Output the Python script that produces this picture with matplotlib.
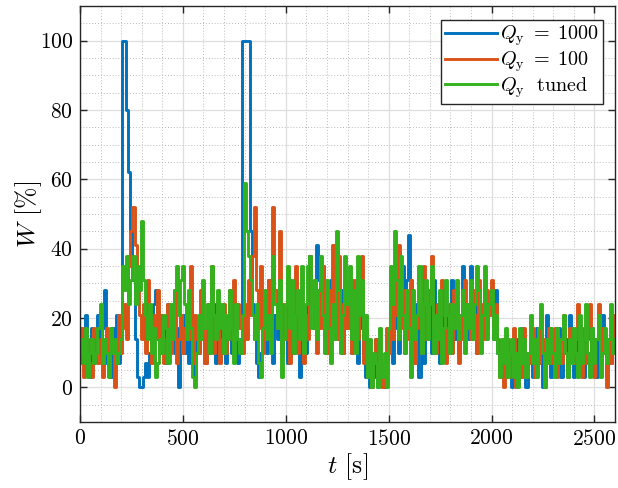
import matplotlib
matplotlib.use("Agg")
import matplotlib.pyplot as plt
from matplotlib.ticker import MultipleLocator, FixedLocator

plt.rcParams["font.family"] = "serif"
plt.rcParams["font.serif"] = ["cmr10", "DejaVu Serif"]
plt.rcParams["mathtext.fontset"] = "cm"
plt.rcParams["axes.formatter.use_mathtext"] = True

# Sample times [s], one sample every 10 s
t = list(range(0, 2610, 10))

# Control effort W [%] for Q_y = 1000
w_q1000 = [
    10, 14, 7, 21, 10, 3, 17, 7, 14, 21,
    10, 17, 28, 7, 14, 3, 17, 10, 21, 7,
    17, 100, 100, 80, 62, 45, 31, 14, 3, 0,
    0, 3, 7, 3, 10, 17, 24, 28, 14, 21,
    10, 17, 7, 24, 14, 21, 10, 17, 0, 14,
    21, 10, 17, 7, 24, 14, 3, 17, 10, 21,
    14, 7, 21, 10, 17, 24, 7, 14, 21, 10,
    17, 7, 14, 21, 10, 24, 14, 7, 14, 100,
    100, 100, 100, 45, 24, 14, 7, 3, 10, 17,
    24, 10, 31, 17, 7, 21, 14, 28, 10, 17,
    21, 7, 14, 24, 10, 31, 17, 3, 21, 14,
    10, 24, 38, 28, 17, 41, 31, 21, 35, 14,
    24, 10, 31, 17, 41, 21, 14, 28, 10, 24,
    17, 31, 10, 21, 28, 7, 17, 24, 10, 3,
    3, 0, 7, 3, 14, 0, 10, 3, 0, 7,
    14, 21, 7, 17, 28, 10, 24, 35, 21, 31,
    44, 31, 21, 14, 24, 3, 17, 7, 21, 14,
    24, 10, 31, 17, 21, 7, 28, 14, 24, 10,
    17, 31, 14, 24, 10, 21, 35, 17, 24, 14,
    35, 17, 24, 10, 28, 14, 21, 31, 17, 24,
    24, 14, 28, 10, 7, 3, 10, 14, 3, 7,
    0, 10, 7, 14, 3, 17, 10, 0, 7, 14,
    3, 10, 17, 7, 14, 0, 10, 21, 7, 3,
    14, 7, 10, 17, 3, 10, 14, 7, 21, 10,
    3, 14, 7, 17, 10, 3, 14, 10, 7, 17,
    10, 3, 14, 7, 21, 10, 3, 14, 7, 17,
    10,
]

# Control effort W [%] for Q_y = 100
w_q100 = [
    7, 17, 3, 10, 14, 7, 3, 17, 10, 7,
    14, 3, 10, 17, 7, 14, 10, 0, 7, 21,
    10, 17, 24, 14, 35, 45, 52, 41, 28, 21,
    14, 24, 10, 31, 17, 7, 21, 14, 28, 10,
    21, 7, 14, 24, 10, 17, 28, 7, 14, 21,
    10, 17, 24, 14, 35, 7, 21, 14, 10, 28,
    17, 7, 24, 14, 35, 10, 21, 17, 7, 14,
    24, 10, 17, 28, 14, 31, 21, 24, 17, 10,
    24, 14, 31, 21, 38, 52, 28, 17, 35, 10,
    24, 14, 31, 21, 52, 28, 17, 45, 10, 24,
    14, 31, 7, 21, 17, 35, 10, 24, 14, 7,
    21, 14, 38, 24, 31, 10, 28, 17, 35, 21,
    10, 28, 17, 41, 21, 14, 38, 24, 10, 31,
    17, 24, 10, 31, 21, 14, 28, 38, 7, 17,
    3, 10, 0, 7, 14, 3, 10, 0, 7, 17,
    10, 24, 14, 35, 21, 41, 17, 28, 10, 24,
    14, 31, 21, 7, 17, 24, 10, 35, 14, 21,
    28, 38, 17, 10, 24, 14, 31, 21, 7, 17,
    24, 10, 28, 17, 7, 21, 14, 31, 17, 24,
    14, 28, 21, 10, 31, 17, 24, 14, 28, 21,
    31, 17, 24, 14, 3, 10, 0, 7, 14, 3,
    10, 17, 0, 7, 14, 3, 17, 10, 7, 14,
    17, 3, 10, 7, 21, 14, 0, 10, 17, 7,
    10, 17, 3, 14, 7, 21, 10, 3, 17, 14,
    7, 14, 24, 10, 3, 17, 7, 14, 24, 10,
    3, 14, 24, 7, 17, 10, 0, 14, 7, 21,
    10,
]

# Control effort W [%] for the tuned Q_y
w_tuned = [
    10, 14, 7, 17, 3, 10, 14, 7, 10, 17,
    24, 7, 14, 10, 3, 17, 10, 14, 7, 10,
    14, 35, 28, 38, 24, 31, 38, 24, 35, 28,
    48, 31, 21, 14, 24, 10, 17, 3, 7, 14,
    10, 21, 17, 7, 24, 14, 28, 35, 21, 31,
    35, 24, 14, 28, 17, 3, 0, 10, 21, 14,
    31, 17, 24, 10, 35, 21, 14, 28, 17, 24,
    10, 21, 14, 28, 17, 7, 24, 14, 10, 21,
    59, 45, 38, 31, 21, 14, 24, 7, 3, 17,
    28, 14, 21, 10, 38, 24, 17, 31, 3, 14,
    24, 35, 17, 31, 10, 21, 28, 14, 35, 10,
    24, 35, 38, 17, 31, 14, 28, 38, 21, 10,
    31, 17, 7, 24, 14, 45, 28, 10, 21, 38,
    24, 35, 14, 28, 10, 38, 21, 31, 14, 21,
    3, 14, 0, 10, 7, 0, 17, 3, 10, 0,
    17, 35, 24, 45, 31, 14, 38, 21, 10, 28,
    17, 3, 28, 14, 21, 35, 10, 24, 31, 14,
    24, 35, 10, 21, 14, 28, 7, 17, 31, 21,
    10, 24, 17, 31, 14, 21, 28, 10, 24, 17,
    31, 14, 24, 35, 28, 10, 21, 35, 14, 24,
    28, 14, 21, 10, 3, 14, 7, 17, 3, 10,
    14, 3, 10, 0, 17, 7, 14, 3, 10, 21,
    7, 14, 3, 17, 24, 10, 0, 14, 7, 17,
    10, 3, 17, 7, 14, 21, 10, 3, 14, 7,
    17, 10, 3, 21, 7, 14, 24, 10, 3, 17,
    7, 14, 21, 3, 10, 17, 7, 14, 24, 10,
    14,
]

series = [
    (w_q1000, "#0072BD", r"$Q_\mathrm{y}\;=\;1000$"),
    (w_q100, "#D95319", r"$Q_\mathrm{y}\;=\;100$"),
    (w_tuned, "#33B21E", r"$Q_\mathrm{y}\ \ \mathrm{tuned}$"),
]

fig = plt.figure(figsize=(6.18, 4.88), dpi=100)
ax = fig.add_axes([80 / 618, 66 / 488, 535 / 618, 416 / 488])

for values, color, label in series:
    ax.plot(t, values, color=color, lw=2.1, drawstyle="steps-mid", label=label)

ax.set_xlim(0, 2600)
ax.set_ylim(-10, 110)
ax.xaxis.set_major_locator(MultipleLocator(500))
ax.xaxis.set_minor_locator(MultipleLocator(100))
ax.yaxis.set_major_locator(FixedLocator([0, 20, 40, 60, 80, 100]))
ax.yaxis.set_minor_locator(MultipleLocator(5))

ax.grid(which="major", color="#dedede", lw=0.9, ls="-")
ax.grid(which="minor", color="#bcbcbc", lw=0.7, ls=(0, (1, 2)))
ax.set_axisbelow(True)

ax.tick_params(which="major", direction="in", length=5, width=1.0,
               top=True, right=True, labelsize=15.5, colors="#262626",
               labelcolor="black", pad=5)
ax.tick_params(which="minor", length=0, top=True, right=True)
for s in ax.spines.values():
    s.set_color("#262626")
    s.set_linewidth(1.0)

ax.set_xlabel(r"$t$ [s]", fontsize=18.5, labelpad=2)
ax.set_ylabel(r"$W$ [%]", fontsize=18.5)
ax.yaxis.set_label_coords(-0.068, 0.5)

leg = ax.legend(loc="upper right", bbox_to_anchor=(0.977, 0.967), fontsize=14.5,
                frameon=True, fancybox=False, framealpha=1, edgecolor="#262626",
                handlelength=2.6, handletextpad=0.15, borderpad=0.2,
                labelspacing=0.05, borderaxespad=0)
leg.get_frame().set_linewidth(1.0)

fig.savefig("out.png", dpi=100)
